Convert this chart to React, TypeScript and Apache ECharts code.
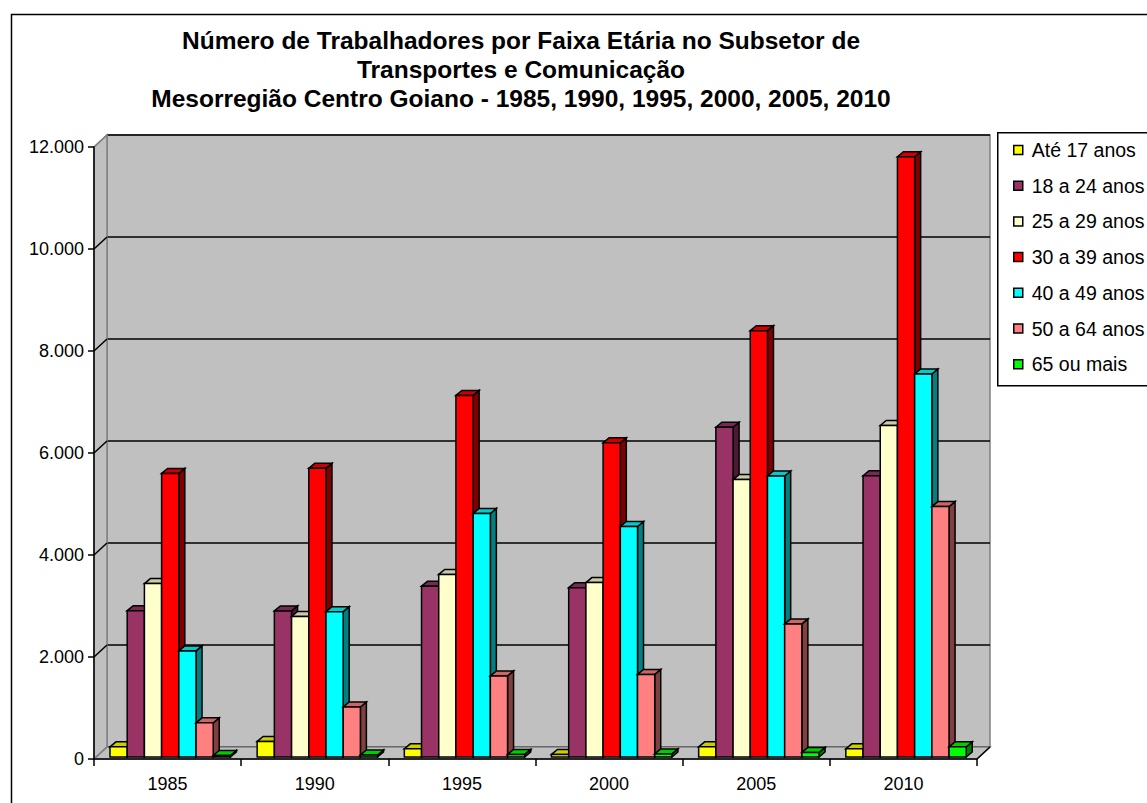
import React, { useEffect, useRef } from 'react';
import * as echarts from 'echarts';

const categories = ['1985', '1990', '1995', '2000', '2005', '2010'];
const seriesNames = ['Até 17 anos', '18 a 24 anos', '25 a 29 anos', '30 a 39 anos', '40 a 49 anos', '50 a 64 anos', '65 ou mais'];
const ate17 = [200, 305, 160, 50, 200, 160];
const de18a24 = [2870, 2865, 3350, 3320, 6465, 5515];
const de25a29 = [3400, 2755, 3580, 3420, 5440, 6500];
const de30a39 = [5560, 5660, 7090, 6160, 8360, 11770];
const de40a49 = [2080, 2850, 4775, 4520, 5510, 7510];
const de50a64 = [670, 980, 1590, 1620, 2610, 4910];
const mais65 = [30, 40, 50, 60, 90, 200];
const seriesValues = [ate17, de18a24, de25a29, de30a39, de40a49, de50a64, mais65];
const seriesColors = ['#FFFF00', '#993366', '#FFFFCC', '#FF0000', '#00FFFF', '#FF8080', '#00FF00'];
const yMax = 12000;
const yInterval = 2000;
const yTickValues = [0, 2000, 4000, 6000, 8000, 10000, 12000];

const TITLE = 'Número de Trabalhadores por Faixa Etária no Subsetor de\nTransportes e Comunicação\nMesorregião Centro Goiano - 1985, 1990, 1995, 2000, 2005, 2010';
const FONT = '"Liberation Sans", Arial, sans-serif';

const DX = 13;
const DY = 12;
const BDX = 6;
const BDY = 5;

function shade(hex: string, f: number): string {
  const n = parseInt(hex.slice(1), 16);
  const r = Math.round(((n >> 16) & 255) * f);
  const g = Math.round(((n >> 8) & 255) * f);
  const b = Math.round((n & 255) * f);
  return `rgb(${r},${g},${b})`;
}

function fmt(v: number): string {
  return String(v).replace(/\B(?=(\d{3})+(?!\d))/g, '.');
}

export default function App() {
  const ref = useRef<HTMLDivElement>(null);
  useEffect(() => {
    if (!ref.current) return;
    const chart = echarts.init(ref.current, null, { renderer: 'svg' });

    const frameSeries: any = {
      type: 'custom',
      name: '__frame',
      xAxisIndex: 0,
      yAxisIndex: 0,
      z: 1,
      silent: true,
      data: [[0, 0]],
      renderItem: (params: any, api: any) => {
        const cs = params.coordSys;
        const x = cs.x, y = cs.y, w = cs.width, h = cs.height;
        const children: any[] = [
          { type: 'polygon', shape: { points: [[x, y], [x + DX, y - DY], [x + DX, y + h - DY], [x, y + h]] }, style: { fill: '#C0C0C0', stroke: '#808080', lineWidth: 1.5 } },
          { type: 'polygon', shape: { points: [[x, y + h], [x + DX, y + h - DY], [x + w + DX, y + h - DY], [x + w, y + h]] }, style: { fill: '#C0C0C0', stroke: '#808080', lineWidth: 1.5 } },
          { type: 'line', shape: { x1: x + w, y1: y + h, x2: x + w + DX, y2: y + h - DY }, style: { stroke: '#000', lineWidth: 1.5 } },
        ];
        yTickValues.forEach((v) => {
          const py = api.coord([0, v])[1];
          children.push({ type: 'line', shape: { x1: x, y1: py, x2: x + DX, y2: py - DY }, style: { stroke: v === 0 || v === yMax ? '#808080' : '#000', lineWidth: 1.5 } });
        });
        return { type: 'group', children };
      },
    };

    const barSeries = seriesNames.map((name, s) => ({
      type: 'custom',
      name,
      xAxisIndex: 0,
      yAxisIndex: 0,
      z: 3,
      itemStyle: { color: seriesColors[s], borderColor: '#000', borderWidth: 1.5 },
      encode: { x: 0, y: 1 },
      data: seriesValues[s].map((v, i) => [i, v]),
      renderItem: (params: any, api: any) => {
        const idx = api.value(0);
        const v = api.value(1);
        const band = api.size([1, 0])[0];
        const base = api.coord([idx, 0]);
        const start = base[0] - band / 2;
        const w = band * 0.1169;
        const x0 = start + band * 0.1087 + s * w;
        const yBot = base[1] - 2;
        const yTop = api.coord([idx, v])[1] - 2;
        const c = seriesColors[s];
        return {
          type: 'group',
          children: [
            { type: 'polygon', shape: { points: [[x0 + w, yTop], [x0 + w + BDX, yTop - BDY], [x0 + w + BDX, yBot - BDY], [x0 + w, yBot]] }, style: { fill: shade(c, 0.5), stroke: '#000', lineWidth: 1.5 } },
            { type: 'polygon', shape: { points: [[x0, yTop], [x0 + BDX, yTop - BDY], [x0 + w + BDX, yTop - BDY], [x0 + w, yTop]] }, style: { fill: shade(c, 0.8), stroke: '#000', lineWidth: 1.5 } },
            { type: 'rect', shape: { x: x0, y: yTop, width: w, height: yBot - yTop }, style: { fill: c, stroke: '#000', lineWidth: 1.5 } },
          ],
        };
      },
    }));

    chart.setOption({
      animation: false,
      backgroundColor: '#FFFFFF',
      title: {
        text: TITLE,
        left: 521,
        top: 26,
        padding: 0,
        textAlign: 'center',
        textStyle: { fontFamily: FONT, fontSize: 24.5, fontWeight: 'bold', color: '#000', lineHeight: 29 },
      },
      legend: {
        orient: 'vertical',
        left: 1013,
        top: 140,
        padding: 0,
        itemWidth: 9,
        itemHeight: 9,
        itemGap: 15.7,
        icon: 'rect',
        data: seriesNames,
        itemStyle: { borderColor: '#000', borderWidth: 1.5 },
        textStyle: { fontFamily: FONT, fontSize: 19.5, color: '#000', lineHeight: 20, padding: [0, 0, 0, 4] },
      },
      graphic: [
        { type: 'rect', left: 9, top: 12, shape: { width: 1300, height: 1000 }, style: { fill: 'none', stroke: '#000', lineWidth: 1.5 }, z: -10 },
        { type: 'rect', left: 997, top: 132, shape: { width: 300, height: 253 }, style: { fill: '#fff', stroke: '#000', lineWidth: 1.5 }, z: -5 },
      ],
      grid: [
        { left: 94, right: 170, top: 147, bottom: 44, show: false },
        { left: 107, right: 157, top: 135, bottom: 56, show: true, backgroundColor: '#C0C0C0', borderColor: '#808080', borderWidth: 1.5 },
      ],
      xAxis: [
        {
          type: 'category',
          gridIndex: 0,
          data: categories,
          axisLine: { lineStyle: { color: '#000', width: 1.5 } },
          axisTick: { show: true, length: 7, lineStyle: { color: '#000', width: 1.5 } },
          axisLabel: { color: '#000', fontFamily: FONT, fontSize: 18, margin: 16 },
          z: 5,
        },
        { type: 'category', gridIndex: 1, data: categories, show: false },
      ],
      yAxis: [
        {
          type: 'value',
          gridIndex: 0,
          min: 0,
          max: yMax,
          interval: yInterval,
          axisLine: { show: true, lineStyle: { color: '#000', width: 1.5 } },
          axisTick: { show: true, length: 6, lineStyle: { color: '#000', width: 1.5 } },
          axisLabel: { color: '#000', fontFamily: FONT, fontSize: 18, margin: 10, formatter: (v: number) => fmt(v) },
          splitLine: { show: false },
          z: 5,
        },
        {
          type: 'value',
          gridIndex: 1,
          min: 0,
          max: yMax,
          interval: yInterval,
          axisLine: { show: false },
          axisTick: { show: false },
          axisLabel: { show: false },
          splitLine: { show: true, lineStyle: { color: '#000', width: 1.5 } },
        },
      ],
      series: [frameSeries, ...barSeries],
    });
    return () => chart.dispose();
  }, []);
  return <div ref={ref} style={{ position: 'fixed', left: 0, top: 0, width: 1147, height: 803 }} />;
}
